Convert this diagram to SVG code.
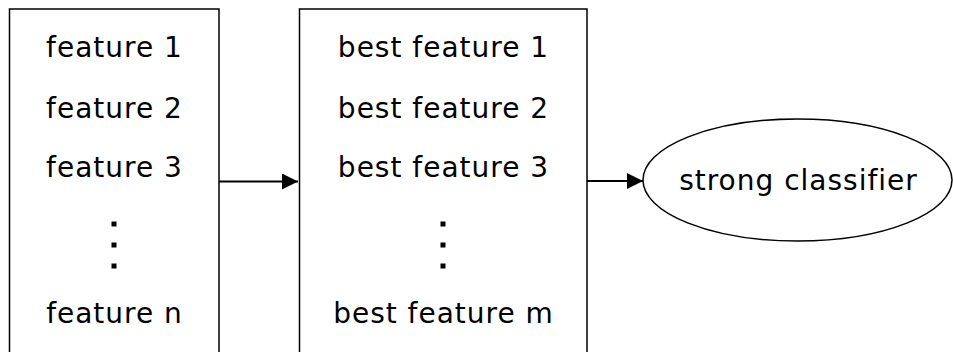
<svg xmlns="http://www.w3.org/2000/svg" width="953" height="352" viewBox="0 0 953 352">
<style>
.box{fill:#fff;stroke:#000;stroke-width:1.5}
.t{font-family:"DejaVu Sans",Verdana,sans-serif;font-size:28px;letter-spacing:1px;text-anchor:middle;fill:#000}
.dot{fill:#000}
.c{stroke:#000;stroke-width:2;fill:none}
</style>
<defs>
<marker id="ah" markerWidth="17" markerHeight="16" refX="16" refY="8" orient="auto" markerUnits="userSpaceOnUse">
<path d="M0,0 L16,8 L0,16 Z" fill="#000"/>
</marker>
</defs>
<g id="features">
<rect class="box" x="9.5" y="9" width="209.5" height="360"/>
<text class="t" x="114.5" y="57">feature 1</text>
<text class="t" x="114.5" y="118">feature 2</text>
<text class="t" x="114.5" y="177">feature 3</text>
<rect class="dot" x="111.5" y="221.5" width="5" height="5"/>
<rect class="dot" x="111.5" y="242.5" width="5" height="5"/>
<rect class="dot" x="111.5" y="263.5" width="5" height="5"/>
<text class="t" x="114.5" y="323">feature n</text>
</g>
<g id="best">
<rect class="box" x="299.5" y="9" width="287.5" height="360"/>
<text class="t" x="443.5" y="57">best feature 1</text>
<text class="t" x="443.5" y="118">best feature 2</text>
<text class="t" x="443.5" y="177">best feature 3</text>
<rect class="dot" x="440.5" y="221.5" width="5" height="5"/>
<rect class="dot" x="440.5" y="242.5" width="5" height="5"/>
<rect class="dot" x="440.5" y="263.5" width="5" height="5"/>
<text class="t" x="443.5" y="323">best feature m</text>
</g>
<g id="classifier">
<ellipse class="box" cx="797.5" cy="180" rx="154.5" ry="61"/>
<text class="t" x="798.5" y="190">strong classifier</text>
</g>
<g id="connectors">
<line class="c" x1="219" y1="181.5" x2="298" y2="181.5" marker-end="url(#ah)"/>
<line class="c" x1="587" y1="181" x2="643" y2="181" marker-end="url(#ah)"/>
</g>
</svg>
